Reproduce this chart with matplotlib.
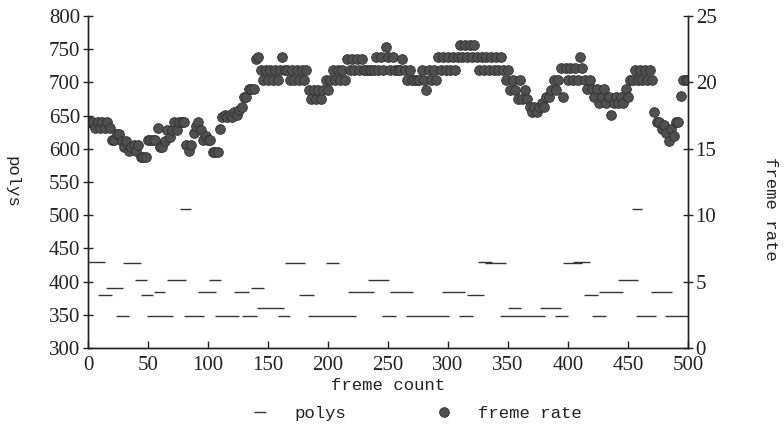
import matplotlib
matplotlib.use("Agg")
import matplotlib.pyplot as plt
from matplotlib.lines import Line2D
import numpy as np

# polys: constant runs of the poly count (start frame, end frame, polys)
seg_start = [0, 325, 404,
             29, 164, 198, 331, 396,
             39, 66, 101, 233, 442,
             15, 136,
             55, 92, 122, 217, 252, 295, 426, 469,
             8, 44, 176, 316, 413,
             141, 350, 377,
             23, 49, 80, 106, 128, 158, 183, 245, 265, 309, 343, 389, 420, 457, 481,
             77, 453]
seg_end = [14, 337, 418,
           44, 181, 209, 348, 412,
           49, 82, 111, 251, 458,
           29, 147,
           64, 107, 134, 238, 271, 314, 446, 487,
           20, 54, 188, 330, 425,
           163, 361, 394,
           34, 71, 97, 126, 141, 168, 223, 257, 301, 321, 381, 400, 432, 473, 500,
           86, 462]
seg_polys = [430, 430, 430,
             428, 428, 428, 428, 428,
             402, 402, 402, 402, 402,
             391, 391,
             384, 384, 384, 384, 384, 384, 384, 384,
             380, 380, 380, 380, 380,
             360, 360, 360,
             348, 348, 348, 348, 348, 348, 348, 348, 348, 348, 348, 348, 348, 348, 348,
             510, 510]

# frame rate, one sample every 2 frames (frame 0 .. 500)
frame_rate = [
    17.0, 17.0, 17.0, 16.55, 17.0, 16.55, 17.0, 16.55, 17.0, 16.55,
    15.65, 15.65, 16.1, 16.1, 15.55, 15.15, 15.55, 14.8, 15.15, 15.25,
    14.8, 15.25, 14.4, 14.4, 14.4, 15.65, 15.65, 15.65, 15.65, 16.55,
    15.15, 15.15, 15.55, 16.4, 15.9, 16.4, 17.05, 16.4, 17.05, 17.05,
    17.05, 15.25, 14.8, 15.25, 16.2, 16.7, 17.05, 16.4, 15.65, 16.0,
    15.65, 15.65, 14.75, 14.75, 14.75, 16.5, 17.4, 17.55, 17.4, 17.55,
    17.4, 17.75, 17.55, 17.9, 18.15, 18.9, 18.9, 19.5, 19.5, 19.5,
    21.75, 21.9, 20.95, 20.2, 20.95, 20.2, 20.95, 20.2, 20.95, 20.2,
    20.95, 21.9, 20.95, 20.95, 20.2, 20.95, 20.2, 20.95, 20.2, 20.95,
    20.2, 20.95, 19.45, 18.75, 19.45, 18.75, 19.45, 18.75, 19.45, 20.2,
    19.45, 20.2, 20.95, 20.2, 20.95, 20.2, 20.95, 20.2, 21.75, 20.95,
    21.75, 20.95, 21.75, 20.95, 21.75, 20.95, 20.95, 20.95, 20.95, 20.95,
    21.9, 20.95, 21.9, 20.95, 22.65, 21.9, 20.95, 21.9, 20.95, 20.95,
    20.95, 21.75, 20.95, 20.2, 20.95, 20.2, 20.2, 20.2, 20.2, 20.95,
    20.2, 19.45, 20.95, 20.2, 20.95, 20.2, 21.9, 20.95, 21.9, 20.95,
    21.9, 20.95, 21.9, 20.95, 21.9, 22.8, 21.9, 22.8, 21.9, 22.8,
    21.9, 22.8, 21.9, 20.95, 21.9, 20.95, 21.9, 20.95, 21.9, 20.95,
    21.9, 20.95, 21.9, 20.95, 20.2, 20.95, 19.45, 20.2, 19.45, 18.75,
    20.2, 18.75, 19.45, 18.75, 18.15, 17.75, 18.15, 17.75, 18.15, 18.45,
    18.15, 18.9, 18.9, 19.45, 20.2, 19.45, 20.2, 21.1, 18.9, 21.1,
    20.2, 21.1, 20.2, 21.1, 20.2, 21.95, 21.1, 20.2, 19.5, 20.2,
    19.5, 18.9, 19.5, 18.45, 18.9, 19.5, 18.45, 18.9, 17.55, 18.45,
    18.9, 18.45, 18.9, 18.45, 19.5, 18.9, 20.2, 20.2, 20.95, 20.2,
    20.95, 20.2, 20.95, 20.2, 20.95, 20.2, 17.75, 17.0, 17.0, 16.5,
    16.8, 16.2, 15.6, 16.5, 16.0, 17.0, 17.0, 19.0, 20.2, 20.2,
    20.2,
]
frame_x = np.arange(0, 2 * len(frame_rate), 2)

x_ticks = [0, 50, 100, 150, 200, 250, 300, 350, 400, 450, 500]
polys_ticks = [300, 350, 400, 450, 500, 550, 600, 650, 700, 750, 800]
rate_ticks = [0, 5, 10, 15, 20, 25]

tick_font = "Liberation Serif"
text_font = "Liberation Mono"
ink = "#222222"

fig = plt.figure(figsize=(7.84, 4.38), dpi=100)
ax = fig.add_axes([88 / 784, 90 / 438, 600 / 784, 332 / 438])
ax2 = ax.twinx()

ax.hlines(seg_polys, seg_start, seg_end, colors="#333333", linewidth=1.0)
ax2.plot(frame_x, frame_rate, linestyle="none", marker="o", markersize=7,
         markerfacecolor="#505050", markeredgecolor="#303030", markeredgewidth=0.6)

ax.set_xlim(0, 500)
ax.set_ylim(300, 800)
ax2.set_ylim(0, 25)
ax.set_xticks(x_ticks)
ax.set_yticks(polys_ticks)
ax2.set_yticks(rate_ticks)

for a in (ax, ax2):
    a.spines["top"].set_visible(False)
    for s in a.spines.values():
        s.set_color(ink)
        s.set_linewidth(1.0)

ax.tick_params(axis="x", direction="in", length=5, width=1, color=ink, pad=6,
               labelsize=15, labelcolor=ink)
ax.tick_params(axis="y", direction="inout", length=7, width=1, color=ink, pad=2,
               labelsize=15, labelcolor=ink)
ax2.tick_params(axis="y", direction="inout", length=7, width=1, color=ink, pad=2,
                labelsize=15, labelcolor=ink)
for lab in ax.get_xticklabels() + ax.get_yticklabels() + ax2.get_yticklabels():
    lab.set_family(tick_font)

ax.set_xlabel("freme count", family=text_font, fontsize=12.5, color=ink, labelpad=2)
ax.set_ylabel("polys", family=text_font, fontsize=12.5, color=ink, rotation=270,
              labelpad=0)
ax.yaxis.set_label_coords(-0.14, 0.5)
ax2.set_ylabel("freme rate", family=text_font, fontsize=12.5, color=ink, rotation=270,
               labelpad=0)
ax2.yaxis.set_label_coords(1.15, 0.42)

handles = [
    Line2D([], [], linestyle="none", marker="_", markersize=8, markeredgewidth=1.0,
           color="#333333"),
    Line2D([], [], linestyle="none", marker="o", markersize=7,
           markerfacecolor="#505050", markeredgecolor="#303030", markeredgewidth=0.6),
]
fig.legend(handles, ["polys", "freme rate"], loc="center", bbox_to_anchor=(0.526, 0.056),
           ncol=2, frameon=False, columnspacing=4.6, handletextpad=1.0,
           prop={"family": text_font, "size": 12.5}, labelcolor=ink)

fig.savefig("out.png", dpi=100)
